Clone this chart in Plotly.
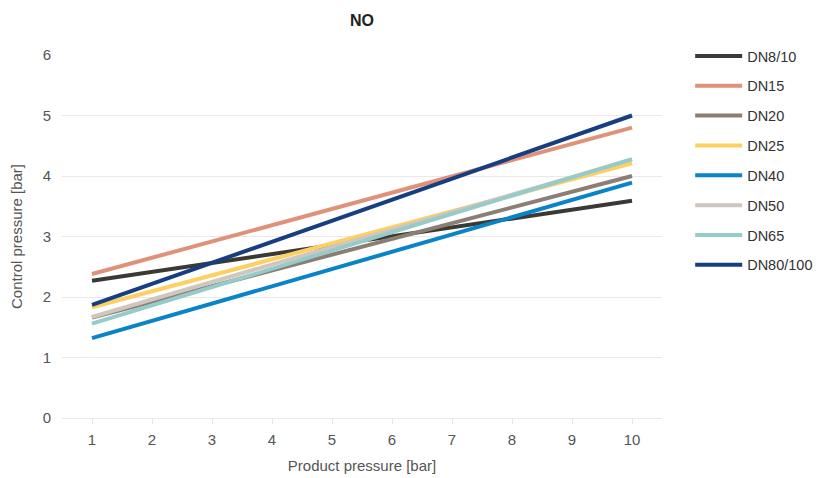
import plotly.graph_objects as go

# 产品压力 [bar] — 端点
x_vals = [1, 10]

series_names = ["DN8/10", "DN15", "DN20", "DN25", "DN40", "DN50", "DN65", "DN80/100"]
dn8_10 = [2.27, 3.59]
dn15 = [2.38, 4.80]
dn20 = [1.66, 4.00]
dn25 = [1.83, 4.21]
dn40 = [1.32, 3.89]
dn50 = [1.67, 4.27]
dn65 = [1.56, 4.28]
dn80_100 = [1.87, 5.00]
series_values = [dn8_10, dn15, dn20, dn25, dn40, dn50, dn65, dn80_100]
colors = ["#3a3935", "#e0917a", "#8b7e74", "#fdd063", "#0a84c9", "#cec6bf", "#95cbc8", "#173e80"]

x_ticks = [1, 2, 3, 4, 5, 6, 7, 8, 9, 10]
y_ticks = [0, 1, 2, 3, 4, 5, 6]

fig = go.Figure()
for name, vals, color in zip(series_names, series_values, colors):
    fig.add_trace(go.Scatter(
        x=x_vals, y=vals, mode="lines", name=name, legendgroup=name,
        line=dict(color=color, width=4),
    ))

# 页面 body 有 8px 外边距，尺寸和边距按此补偿
fig.update_layout(
    width=816, height=470,
    margin=dict(l=54, r=162, t=47, b=60),
    paper_bgcolor="white", plot_bgcolor="white",
    font=dict(family="Liberation Sans, Arial, sans-serif", color="#555", size=15),
    title=dict(text="<b>NO</b>", x=0.5, xref="paper", xanchor="center",
               y=0.974, yref="container", yanchor="middle",
               font=dict(size=16, color="#222")),
    xaxis=dict(
        range=[0.5, 10.5], tickvals=x_ticks, showgrid=False, zeroline=False,
        ticks="outside", ticklen=5, tickcolor="#e6e3e0", showline=True,
        linecolor="#ebe8e5", linewidth=1, automargin=False, ticklabelstandoff=3,
        title=dict(text="Product pressure [bar]", standoff=13, font=dict(size=15)),
    ),
    yaxis=dict(
        range=[0, 6], tickvals=y_ticks, showgrid=True, gridcolor="#ebe8e5",
        zeroline=False, ticks="", ticklabelstandoff=10, automargin=False,
        title=dict(text="Control pressure [bar]", standoff=17, font=dict(size=15)),
    ),
    legend=dict(
        xref="container", yref="container",
        x=0.836, xanchor="left", y=0.932, yanchor="top",
        font=dict(size=14.5, color="#333"), tracegroupgap=8, itemwidth=47,
    ),
)

fig.write_html("out.html")
